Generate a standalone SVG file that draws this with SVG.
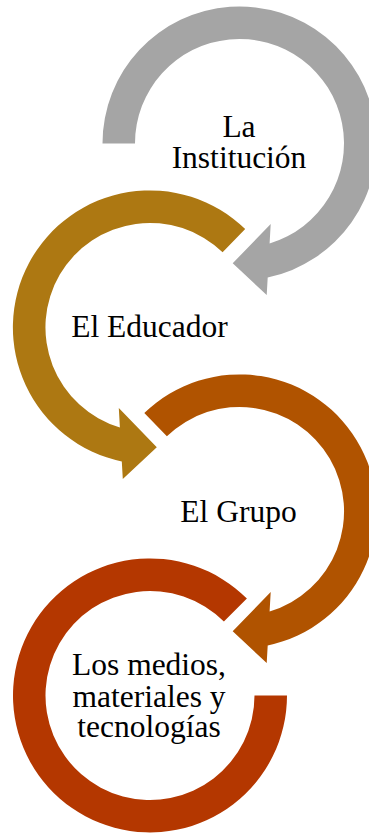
<svg xmlns="http://www.w3.org/2000/svg" width="369" height="833" viewBox="0 0 369 833">
<style>
  .lbl { font-family: "Liberation Serif", "Times New Roman", serif; font-size: 31.5px; fill: #000; text-anchor: middle; }
</style>
<rect width="369" height="833" fill="#fff"/>
<g id="connectors"></g>
<g id="node-institucion">
  <path fill="#A5A5A5" d="M102.5,143.5 A137,137 0 1 1 267.7,277.5 L266.7,295 L232.7,263.3 L270.7,224 L269.6,243.5 A104.5,104.5 0 1 0 135,143.5 Z"/>
  <text class="lbl" x="239" y="136.7">La</text>
  <text class="lbl" x="239" y="168.3">Institución</text>
</g>
<g id="node-educador">
  <path fill="#AD7812" d="M245.2,229 A137,137 0 1 0 121.8,461.5 L122.8,479 L156.8,447.3 L118.8,408 L119.9,427.5 A104.5,104.5 0 1 1 222.6,252.3 Z"/>
  <text class="lbl" x="149.5" y="336.7">El Educador</text>
</g>
<g id="node-grupo">
  <path fill="#B05300" d="M144.3,413 A137,137 0 1 1 267.7,645.5 L266.7,663 L232.7,631.3 L270.7,592 L269.6,611.5 A104.5,104.5 0 1 0 166.9,436.3 Z"/>
  <text class="lbl" x="238.5" y="521.7">El Grupo</text>
</g>
<g id="node-medios">
  <path fill="#B43700" d="M246.9,598.6 A137,137 0 1 0 287,695.5 L254.5,695.5 A104.5,104.5 0 1 1 223.9,621.6 Z"/>
  <text class="lbl" x="149" y="675">Los medios,</text>
  <text class="lbl" x="149" y="706.5">materiales y</text>
  <text class="lbl" x="149" y="737">tecnologías</text>
</g>
</svg>
